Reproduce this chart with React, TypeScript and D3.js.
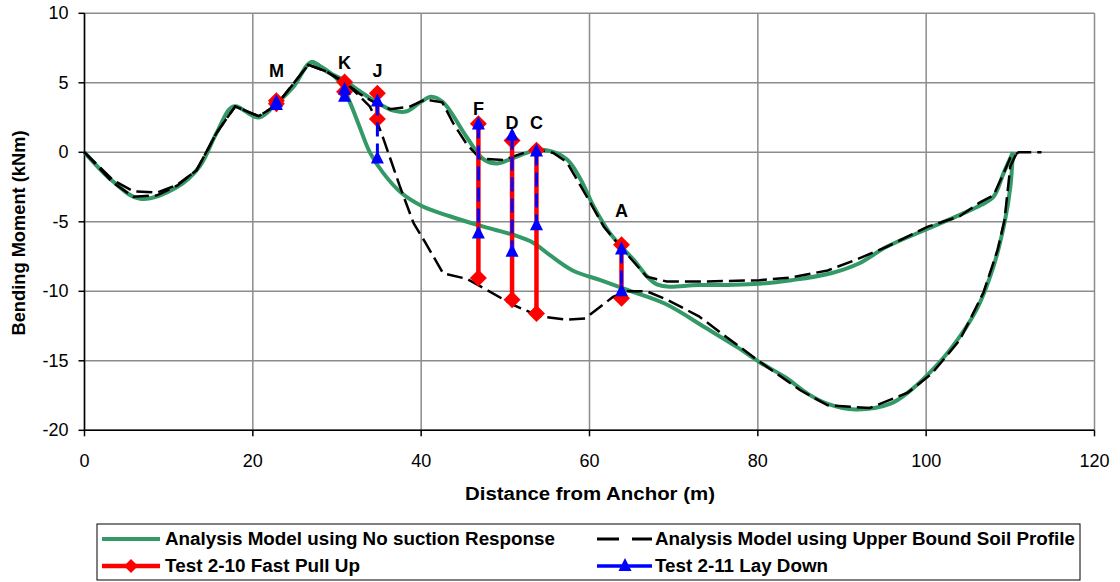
import React from 'react';
import * as d3 from 'd3';

// Bending moment along the line, two analysis models plus two test series

// Analysis Model using No suction Response (green) - pull up branch and lay down branch
const noSuctionUpper: [number, number][] = [
  [0, 0], [3.4, -2.1], [6.6, -3.35], [11, -2.5], [13.7, -1.0], [15.7, 1.4], [17.7, 3.3],
  [20.7, 2.5], [22.8, 3.5], [24.8, 4.7], [27, 6.5], [28.8, 5.8], [30.8, 5.2], [32.7, 4.4],
  [34.7, 3.6], [36.7, 3.0], [38.3, 2.95], [39.9, 3.6], [41.2, 4.0], [42.6, 3.6], [45.4, 1.1],
  [47.4, -0.5], [49, -0.8], [50.6, -0.5], [53.3, 0.1], [54.9, 0.15], [57.3, -0.5],
  [58.9, -1.9], [60.5, -3.9], [62.4, -5.8], [65.2, -7.7], [68, -9.5], [73, -9.55],
  [80.2, -9.45], [84, -9.2], [88.7, -8.7], [92, -8.0], [95.3, -6.8], [100.2, -5.5],
  [104, -4.5], [106.5, -3.8], [108, -3.2], [109.2, -1.5], [110.3, 0]
];
const noSuctionLower: [number, number][] = [
  [27, 6.5], [28.8, 5.9], [30.4, 5.0], [31.6, 3.5], [32.7, 1.8], [33.9, 0], [35.5, -1.5],
  [37.7, -2.95], [40.2, -3.9], [43.4, -4.6], [47.4, -5.35], [51, -5.95], [53.3, -6.5],
  [55.3, -7.4], [58, -8.5], [61.3, -9.2], [65, -10.0], [69, -10.9], [74, -12.7],
  [77.5, -14.0], [80.2, -15.1], [83.3, -16.2], [86, -17.4], [88.3, -18.1], [91.6, -18.5],
  [95.7, -18.1], [98, -17.2], [100.2, -16.0], [103.1, -14.0], [106, -11.3], [108, -8.2],
  [109.3, -5.1], [110, -2.5], [110.3, 0]
];

// Analysis Model using Upper Bound Soil Profile (black dashed)
const upperBoundUpper: [number, number][] = [
  [0, 0], [3.4, -2.0], [5.8, -2.8], [8.6, -2.9], [11, -2.35], [13.3, -1.3], [15.7, 1.4],
  [17.9, 3.3], [20.7, 2.6], [22.8, 3.4], [26.6, 6.3], [28.8, 5.8], [30.8, 5.1], [32.7, 4.2],
  [34.7, 3.5], [36.3, 3.1], [38.7, 3.3], [40.5, 3.8], [42.5, 3.6], [43.8, 2.1], [45.4, 0.6],
  [47, -0.45], [49.8, -0.55], [51.4, -0.2], [53.7, 0.25], [55.7, -0.05], [57.3, -0.7],
  [59.7, -3.2], [61.7, -5.35], [64.4, -7.3], [66.8, -8.95], [69.2, -9.3], [73, -9.3],
  [80.2, -9.2], [84, -9.0], [88.3, -8.5], [91.6, -7.75], [95.3, -6.8], [100.2, -5.35],
  [104, -4.6], [106.4, -3.6], [108, -3.1], [109.2, -1.5], [110, -0.4], [111, 0], [113.7, 0]
];
const upperBoundLower: [number, number][] = [
  [0, 0], [3.4, -2.2], [5.8, -3.2], [8.6, -3.1], [11, -2.4], [13.3, -1.3], [15.7, 1.4],
  [17.9, 3.3], [20.7, 2.6], [22.8, 3.4], [26.6, 6.3], [28.8, 5.8], [30.8, 5.0], [31.9, 4.5],
  [33.9, 3.3], [34.7, 2.3], [35.5, 1.0], [37.5, -2.5], [39.1, -5.1], [40.5, -6.5],
  [42.6, -8.7], [45.4, -9.1], [47.8, -9.9], [51, -11.0], [54.1, -11.8], [57.3, -12.05],
  [59.5, -11.95], [62.8, -10.4], [64.4, -10.0], [66.8, -10.0], [69.2, -10.6], [73, -11.8],
  [76.3, -13.3], [80.2, -15.05], [85, -17.1], [88.3, -18.2], [93.3, -18.4], [97.8, -17.3],
  [100.7, -15.9], [104, -13.5], [106.8, -10.1], [108.5, -7.0], [109.3, -4.9], [110, -1.0],
  [110.8, 0]
];

// Test locations: pairs of readings at each gauge
const testLabels = ['M', 'K', 'J', 'F', 'D', 'C', 'A'];
const testX = [22.8, 30.9, 34.8, 46.8, 50.8, 53.7, 63.8];
const pullUpTop = [3.7, 5.05, 4.25, 2.05, 0.85, 0.15, -6.65];
const pullUpBottom = [3.5, 4.35, 2.4, -9.05, -10.6, -11.6, -10.5];
const layDownTop = [3.6, 4.5, 3.65, 2.0, 1.2, 0.05, -7.0];
const layDownBottom = [3.4, 4.0, -0.45, -5.85, -7.15, -5.25, -10.0];
const labelY = [5.9, 6.5, 5.9, 3.2, 2.2, 2.2, -4.15];

const xTicks = [0, 20, 40, 60, 80, 100, 120];
const yTicks = [-20, -15, -10, -5, 0, 5, 10];

const FONT = '"Liberation Sans", Arial, sans-serif';
const GREEN = '#339966';

const diamond = (cx: number, cy: number, r = 8.5) =>
  `M${cx},${cy - r}L${cx + r},${cy}L${cx},${cy + r}L${cx - r},${cy}Z`;
const triangle = (cx: number, cy: number) =>
  `M${cx},${cy - 8}L${cx + 6.5},${cy + 5}L${cx - 6.5},${cy + 5}Z`;

export default function App() {
  const x = d3.scaleLinear().domain([0, 120]).range([84.5, 1094.5]);
  const y = d3.scaleLinear().domain([-20, 10]).range([430.3, 13.3]);

  const smooth = d3.line<[number, number]>()
    .x(d => x(d[0])).y(d => y(d[1]))
    .curve(d3.curveCatmullRom.alpha(0.5));
  const straight = d3.line<[number, number]>()
    .x(d => x(d[0])).y(d => y(d[1]));

  return (
    <svg width={1120} height={582} style={{ position: 'absolute', left: 0, top: 0, background: '#fff' }}
      fontFamily={FONT}>
      {/* grid */}
      {xTicks.map(t => (
        <line key={'gx' + t} x1={x(t)} x2={x(t)} y1={y(10)} y2={y(-20)} stroke="#8c8c8c" strokeWidth={1.5} />
      ))}
      {yTicks.map(t => (
        <line key={'gy' + t} x1={x(0)} x2={x(120)} y1={y(t)} y2={y(t)} stroke="#8c8c8c" strokeWidth={1.5} />
      ))}

      {/* axes */}
      <line x1={x(0)} x2={x(0)} y1={y(10)} y2={y(-20)} stroke="#000" strokeWidth={1.5} />
      <line x1={x(0)} x2={x(120)} y1={y(-20)} y2={y(-20)} stroke="#000" strokeWidth={1.5} />
      {yTicks.map(t => (
        <g key={'ty' + t}>
          <line x1={x(0) - 6} x2={x(0)} y1={y(t)} y2={y(t)} stroke="#000" strokeWidth={1.5} />
          <text x={x(0) - 16} y={y(t) + 6} textAnchor="end" fontSize={18}>{t}</text>
        </g>
      ))}
      {xTicks.map(t => (
        <g key={'tx' + t}>
          <line x1={x(t)} x2={x(t)} y1={y(-20)} y2={y(-20) + 6} stroke="#000" strokeWidth={1.5} />
          <text x={x(t)} y={467} textAnchor="middle" fontSize={18}>{t}</text>
        </g>
      ))}
      <text x={590} y={500} textAnchor="middle" fontSize={18} fontWeight="bold"
        textLength={250} lengthAdjust="spacingAndGlyphs">Distance from Anchor (m)</text>
      <text transform="translate(25,233) rotate(-90)" textAnchor="middle" fontSize={18} fontWeight="bold"
        textLength={205} lengthAdjust="spacingAndGlyphs">Bending Moment (kNm)</text>

      {/* analysis models */}
      <path d={smooth(noSuctionUpper) ?? ''} fill="none" stroke={GREEN} strokeWidth={4} />
      <path d={smooth(noSuctionLower) ?? ''} fill="none" stroke={GREEN} strokeWidth={4} />
      <path d={straight(upperBoundUpper) ?? ''} fill="none" stroke="#000" strokeWidth={2.5} strokeDasharray="16,6" />
      <path d={straight(upperBoundLower) ?? ''} fill="none" stroke="#000" strokeWidth={2.5} strokeDasharray="16,6" />

      {/* Test 2-10 Fast Pull Up */}
      {testX.map((tx, i) => (
        <g key={'pu' + i}>
          <line x1={x(tx)} x2={x(tx)} y1={y(pullUpTop[i])} y2={y(pullUpBottom[i])} stroke="#ff0000" strokeWidth={4.5} />
          <path d={diamond(x(tx), y(pullUpTop[i]))} fill="#ff0000" />
          <path d={diamond(x(tx), y(pullUpBottom[i]))} fill="#ff0000" />
        </g>
      ))}
      {/* Test 2-11 Lay Down */}
      {testX.map((tx, i) => (
        <g key={'ld' + i}>
          <line x1={x(tx)} x2={x(tx)} y1={y(layDownTop[i])} y2={y(layDownBottom[i])} stroke="#0000ff" strokeWidth={3}
            strokeDasharray="14,7" />
          <path d={triangle(x(tx), y(layDownTop[i]))} fill="#0000ff" />
          <path d={triangle(x(tx), y(layDownBottom[i]))} fill="#0000ff" />
        </g>
      ))}
      {testLabels.map((l, i) => (
        <text key={'lb' + l} x={x(testX[i])} y={y(labelY[i]) + 7} textAnchor="middle" fontSize={18} fontWeight="bold">{l}</text>
      ))}

      {/* legend */}
      <rect x={97} y={524} width={983} height={56} fill="#fff" stroke="#000" strokeWidth={1} />
      <line x1={102} x2={160} y1={539} y2={539} stroke={GREEN} strokeWidth={4} />
      <text x={165} y={545} fontSize={18} fontWeight="bold" textLength={390} lengthAdjust="spacingAndGlyphs">
        Analysis Model using No suction Response</text>
      <line x1={597} x2={652} y1={539} y2={539} stroke="#000" strokeWidth={3} strokeDasharray="22,13" />
      <text x={655} y={545} fontSize={18} fontWeight="bold" textLength={420} lengthAdjust="spacingAndGlyphs">
        Analysis Model using Upper Bound Soil Profile</text>
      <line x1={102} x2={160} y1={566} y2={566} stroke="#ff0000" strokeWidth={4.5} />
      <path d={diamond(131, 566, 7)} fill="#ff0000" />
      <text x={165} y={572} fontSize={18} fontWeight="bold" textLength={195} lengthAdjust="spacingAndGlyphs">
        Test 2-10 Fast Pull Up</text>
      <line x1={597} x2={652} y1={566} y2={566} stroke="#0000ff" strokeWidth={3.5} />
      <path d={triangle(625, 566)} fill="#0000ff" />
      <text x={655} y={572} fontSize={18} fontWeight="bold" textLength={173} lengthAdjust="spacingAndGlyphs">
        Test 2-11 Lay Down</text>
    </svg>
  );
}
